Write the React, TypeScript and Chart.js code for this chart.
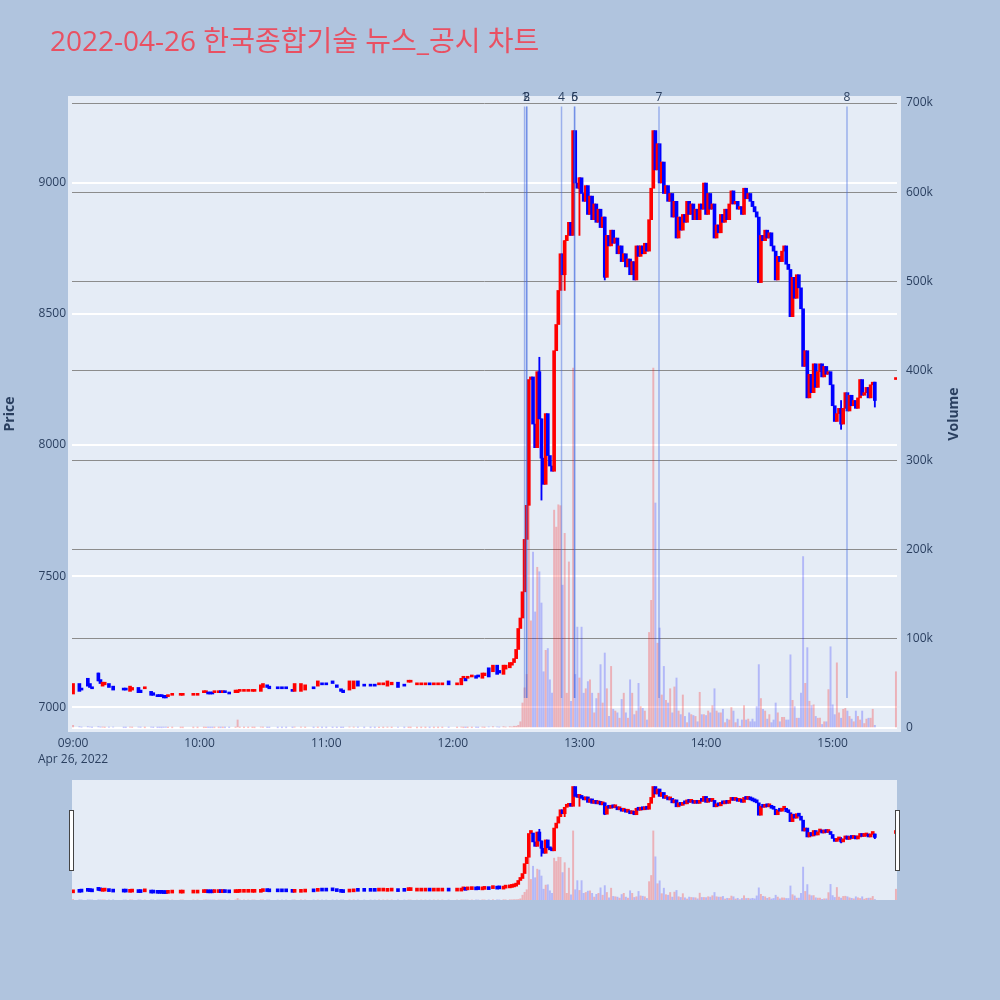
import React, { useEffect, useRef } from 'react';
import { Chart, registerables } from 'chart.js';

Chart.register(...registerables);

const titleText = '2022-04-26 한국종합기술 뉴스_공시 차트';
const dateLabel = 'Apr 26, 2022';

// ---- morning (sparse trades): minute since 09:00, open, close, volume ----
const amMinutes = [
  0, 3, 4, 7, 8, 9, 12, 13, 14, 15,
  17, 19, 24, 25, 27, 28, 31, 32, 34, 37,
  38, 40, 41, 42, 43, 44, 45, 47, 51, 52,
  57, 59, 62, 63, 64, 65, 66, 67, 69, 70,
  71, 72, 74, 77, 78, 79, 81, 83, 85, 86,
  89, 90, 92, 93, 97, 99, 101, 104, 105, 108,
  110, 114, 116, 118, 120, 123, 125, 127, 128, 131,
  133, 135, 138, 141, 143, 145, 147, 149, 151, 154,
  157, 159, 160, 163, 165, 167, 169, 171, 173, 175,
  178, 182, 184, 185, 186, 187, 189, 191, 192, 194,
  195, 197, 199, 201, 202, 204, 205, 207, 208, 209,
];
const amOpen = [
  7050, 7090, 7070, 7110, 7090, 7075, 7130, 7105, 7080, 7085,
  7090, 7080, 7070, 7070, 7060, 7065, 7075, 7065, 7070, 7060,
  7055, 7045, 7045, 7045, 7045, 7045, 7040, 7045, 7045, 7045,
  7045, 7045, 7055, 7055, 7055, 7055, 7055, 7055, 7055, 7060,
  7055, 7060, 7055, 7055, 7055, 7060, 7060, 7060, 7060, 7060,
  7060, 7075, 7085, 7080, 7075, 7075, 7075, 7065, 7060, 7060,
  7065, 7075, 7080, 7090, 7090, 7100, 7085, 7070, 7065, 7065,
  7070, 7100, 7085, 7085, 7085, 7085, 7085, 7080, 7085, 7095,
  7085, 7095, 7095, 7085, 7085, 7085, 7090, 7085, 7085, 7085,
  7100, 7085, 7085, 7110, 7110, 7110, 7115, 7120, 7120, 7110,
  7120, 7150, 7135, 7160, 7140, 7125, 7145, 7150, 7160, 7170,
];
const amClose = [
  7090, 7060, 7065, 7080, 7075, 7070, 7100, 7090, 7095, 7095,
  7075, 7065, 7065, 7065, 7080, 7075, 7055, 7055, 7075, 7045,
  7045, 7040, 7040, 7040, 7035, 7035, 7045, 7050, 7050, 7050,
  7050, 7050, 7060, 7060, 7050, 7050, 7050, 7060, 7060, 7055,
  7060, 7055, 7050, 7065, 7065, 7065, 7065, 7065, 7065, 7065,
  7085, 7090, 7075, 7070, 7070, 7070, 7070, 7060, 7090, 7090,
  7085, 7070, 7100, 7085, 7085, 7090, 7075, 7060, 7055, 7100,
  7100, 7080, 7080, 7080, 7080, 7090, 7090, 7100, 7095, 7075,
  7080, 7100, 7100, 7090, 7090, 7090, 7085, 7090, 7090, 7090,
  7085, 7090, 7110, 7115, 7100, 7115, 7120, 7110, 7115, 7130,
  7130, 7115, 7160, 7125, 7130, 7160, 7160, 7170, 7170, 7185,
];
const amVolume = [
  3000, 1500, 800, 1500, 1000, 500, 1500, 800, 800, 500,
  700, 900, 300, 300, 800, 500, 900, 600, 200, 700,
  400, 300, 300, 200, 500, 600, 300, 200, 200, 200,
  200, 200, 300, 300, 300, 200, 200, 200, 200, 200,
  200, 200, 300, 500, 9000, 500, 300, 300, 300, 200,
  800, 600, 400, 400, 200, 200, 200, 300, 800, 700,
  500, 300, 500, 200, 200, 300, 300, 400, 400, 900,
  700, 600, 200, 200, 200, 300, 300, 600, 400, 600,
  200, 300, 200, 200, 200, 200, 200, 200, 200, 300,
  500, 300, 800, 300, 400, 300, 300, 500, 300, 800,
  500, 1200, 1500, 1200, 800, 1500, 1000, 1500, 1200, 2000,
];

// ---- afternoon: one close per minute from 12:30 (minute 210) to 15:20 ----
const pmStartMinute = 210;
const pmClose = [
  7220, 7300, 7340, 7440, 7640, 7770, 8250, 8260, 8080, 7990,
  8280, 8100, 7950, 7850, 8120, 7960, 7920, 7900, 8360, 8460,
  8590, 8730, 8650, 8780, 8800, 8850, 8800, 9200, 9000, 8980,
  9020, 8960, 8930, 8990, 8880, 8950, 8860, 8920, 8850, 8900,
  8830, 8870, 8640, 8800, 8760, 8820, 8770, 8790, 8730, 8760,
  8700, 8730, 8680, 8710, 8650, 8700, 8630, 8760, 8720, 8760,
  8730, 8770, 8740, 8860, 8980, 9200, 9050, 9150, 9000, 9080,
  8960, 8990, 8930, 8960, 8870, 8930, 8790, 8870, 8820, 8880,
  8850, 8930, 8880, 8920, 8860, 8900, 8860, 8920, 8900, 9000,
  8880, 8960, 8900, 8920, 8790, 8840, 8810, 8880, 8850, 8900,
  8860, 8920, 8970, 8920, 8930, 8900, 8910, 8880, 8980, 8940,
  8960, 8930, 8910, 8890, 8870, 8620, 8800, 8780, 8820, 8790,
  8810, 8760, 8740, 8630, 8720, 8700, 8740, 8760, 8690, 8670,
  8490, 8640, 8560, 8650, 8600, 8520, 8300, 8360, 8180, 8270,
  8200, 8310, 8220, 8280, 8310, 8260, 8300, 8270, 8280, 8230,
  8150, 8090, 8120, 8140, 8080, 8140, 8200, 8130, 8190, 8150,
  8170, 8140, 8180, 8250, 8190, 8200, 8220, 8180, 8230, 8240,
  8170,
];
// volume in thousands of shares
const pmVolumeK = [
  2, 3, 7, 28, 45, 60, 295, 120, 197, 130,
  180, 175, 140, 63, 87, 89, 54, 39, 244, 225,
  250, 249, 160, 218, 39, 186, 30, 403, 60, 113,
  56, 113, 39, 44, 52, 54, 39, 17, 33, 39,
  71, 28, 84, 44, 13, 69, 21, 19, 17, 11,
  32, 39, 17, 11, 54, 39, 15, 19, 50, 24,
  22, 19, 9, 107, 143, 403, 252, 95, 112, 37,
  69, 31, 28, 44, 17, 46, 56, 19, 15, 37,
  13, 6, 17, 15, 14, 13, 7, 40, 15, 15,
  14, 19, 17, 25, 44, 19, 17, 17, 21, 6,
  10, 9, 23, 19, 6, 10, 2, 9, 25, 9,
  10, 7, 10, 7, 24, 71, 33, 21, 19, 10,
  15, 6, 9, 28, 17, 7, 12, 12, 9, 9,
  82, 31, 24, 11, 11, 39, 192, 50, 90, 30,
  25, 26, 13, 11, 11, 4, 7, 7, 43, 91,
  26, 15, 73, 17, 11, 21, 22, 19, 13, 10,
  7, 19, 13, 9, 19, 5, 10, 11, 11, 21,
  3,
];

// ---- notable wicks (minute, low, high) ----
const wickMinutes = [12, 221, 222, 233, 240, 252, 364, 380];
const wickLow = [7100, 8100, 7790, 8590, 8800, 8630, 8060, 8145];
const wickHigh = [7130, 8335, 8100, 8780, 9020, 8870, 8170, 8240];

// ---- closing auction 15:30 ----
const auctionMinute = 390;
const auctionPrice = 8250;
const auctionVolumeK = 63;

// ---- news / disclosure markers ----
const newsLabels = ['1', '2', '3', '4', '5', '6', '7', '8'];
const newsMinutes = [214, 215, 215, 231.5, 237.7, 237.7, 277.7, 366.8];

// ---- axes ----
const priceTicks = [7000, 7500, 8000, 8500, 9000];
const volumeTicks = [0, 100000, 200000, 300000, 400000, 500000, 600000, 700000];
const timeTicks = [0, 60, 120, 180, 240, 300, 360];
const timeTickLabels = ['09:00', '10:00', '11:00', '12:00', '13:00', '14:00', '15:00'];

const UP = '#ff0000';
const DOWN = '#0000ff';
const UP_VOL = 'rgba(255,0,0,0.25)';
const DOWN_VOL = 'rgba(0,0,255,0.22)';
const TEXT = '#2a3f5f';
const FONT = '"Open Sans", "Noto Sans CJK KR", sans-serif';

type Candle = { m: number; o: number; c: number; v: number };

function buildCandles(): Candle[] {
  const out: Candle[] = [];
  amMinutes.forEach((m, i) => out.push({ m, o: amOpen[i], c: amClose[i], v: amVolume[i] }));
  let prev = amClose[amClose.length - 1];
  pmClose.forEach((c, i) => {
    out.push({ m: pmStartMinute + i, o: prev, c, v: pmVolumeK[i] * 1000 });
    prev = c;
  });
  out.push({ m: auctionMinute, o: auctionPrice, c: auctionPrice, v: auctionVolumeK * 1000 });
  return out;
}

export default function App() {
  const mainRef = useRef<HTMLCanvasElement>(null);
  const sliderRef = useRef<HTMLCanvasElement>(null);

  useEffect(() => {
    const candles = buildCandles();
    const up = candles.map((k) => k.c >= k.o);
    const bodyData = candles.map((k) => ({ x: k.m, y: [k.o, k.c] }));
    const volData = candles.map((k) => ({ x: k.m, y: k.v }));
    const bodyColors = up.map((u) => (u ? UP : DOWN));
    const volColors = up.map((u) => (u ? UP_VOL : DOWN_VOL));
    const wickData = wickMinutes.map((m, i) => ({ x: m, y: [wickLow[i], wickHigh[i]] }));
    const wickColors = wickMinutes.map((m) => {
      const k = candles.find((c) => c.m === m);
      return k && k.c >= k.o ? UP : DOWN;
    });
    let maxP = -Infinity;
    let minP = Infinity;
    candles.forEach((k) => {
      maxP = Math.max(maxP, k.o, k.c);
      minP = Math.min(minP, k.o, k.c);
    });
    const newsTop = maxP * 1.01;
    const newsBottom = minP;

    const mainDecor = {
      id: 'mainDecor',
      beforeDraw(chart: any) {
        const { ctx, chartArea } = chart;
        ctx.save();
        ctx.fillStyle = '#e5ecf6';
        ctx.fillRect(chartArea.left - 4, chartArea.top, chartArea.right - chartArea.left + 8, chartArea.bottom - chartArea.top);
        ctx.restore();
      },
      afterDatasetsDraw(chart: any) {
        const { ctx, scales } = chart;
        const xs = scales.x;
        const ys = scales.y;
        const top = ys.getPixelForValue(newsTop);
        const bottom = ys.getPixelForValue(newsBottom);
        ctx.save();
        ctx.strokeStyle = 'rgba(65,105,225,0.45)';
        ctx.lineWidth = 1.5;
        ctx.fillStyle = TEXT;
        ctx.font = `12px ${FONT}`;
        ctx.textAlign = 'center';
        ctx.textBaseline = 'alphabetic';
        newsMinutes.forEach((m, i) => {
          const px = xs.getPixelForValue(m);
          ctx.beginPath();
          ctx.moveTo(px, top);
          ctx.lineTo(px, bottom);
          ctx.stroke();
          ctx.fillText(newsLabels[i], px, top - 5);
        });
        ctx.restore();
      },
      afterDraw(chart: any) {
        const { ctx, chartArea } = chart;
        ctx.save();
        ctx.fillStyle = 'rgb(233,80,98)';
        ctx.font = `28px ${FONT}`;
        ctx.textAlign = 'left';
        ctx.textBaseline = 'alphabetic';
        ctx.fillText(titleText, 50, 51);
        const midY = (chartArea.top + chartArea.bottom) / 2;
        ctx.fillStyle = TEXT;
        ctx.font = `bold 14px ${FONT}`;
        ctx.textAlign = 'center';
        ctx.textBaseline = 'middle';
        ctx.translate(10, midY);
        ctx.rotate(-Math.PI / 2);
        ctx.fillText('Price', 0, 0);
        ctx.restore();
        ctx.save();
        ctx.fillStyle = TEXT;
        ctx.font = `bold 14px ${FONT}`;
        ctx.textAlign = 'center';
        ctx.textBaseline = 'middle';
        ctx.translate(954, midY);
        ctx.rotate(-Math.PI / 2);
        ctx.fillText('Volume', 0, 0);
        ctx.restore();
      },
    };

    const tickFont = { family: FONT, size: 12 };

    const candleSets = (thick: number, minLen: number) => [
      {
        data: wickData as any,
        backgroundColor: wickColors,
        barThickness: 1.2,
        grouped: false,
        yAxisID: 'y',
        order: 1,
        borderWidth: 0,
      } as any,
      {
        data: bodyData as any,
        backgroundColor: bodyColors,
        barThickness: thick,
        minBarLength: minLen,
        grouped: false,
        yAxisID: 'y',
        order: 0,
        borderWidth: 0,
      } as any,
      {
        data: volData as any,
        backgroundColor: volColors,
        barThickness: 1.3,
        grouped: false,
        yAxisID: 'y1',
        order: 2,
        borderWidth: 0,
      } as any,
    ];

    const main = new Chart(mainRef.current as HTMLCanvasElement, {
      type: 'bar',
      data: { datasets: candleSets(3, 2) },
      options: {
        responsive: false,
        animation: false,
        events: [],
        layout: { padding: { top: 96, left: 0, right: 0, bottom: 0 } },
        plugins: { legend: { display: false }, tooltip: { enabled: false } },
        scales: {
          x: {
            type: 'linear',
            min: -0.5,
            max: 390.5,
            offset: false,
            grid: { display: false },
            border: { display: false },
            afterBuildTicks: (s: any) => {
              s.ticks = timeTicks.map((v) => ({ value: v }));
            },
            afterFit: (s: any) => {
              s.height = 38;
            },
            ticks: {
              autoSkip: false,
              maxRotation: 0,
              padding: -5,
              color: TEXT,
              font: { ...tickFont, lineHeight: 1.35 },
              callback: (v: any) => {
                const i = timeTicks.indexOf(Number(v));
                const lbl = i >= 0 ? timeTickLabels[i] : '';
                return i === 0 ? [lbl, dateLabel] : lbl;
              },
            },
          },
          y: {
            type: 'linear',
            position: 'left',
            min: 6905,
            max: 9332,
            grid: { color: '#ffffff', lineWidth: 2, drawTicks: false },
            border: { display: false },
            afterBuildTicks: (s: any) => {
              s.ticks = priceTicks.map((v) => ({ value: v }));
            },
            afterFit: (s: any) => {
              s.width = 72;
            },
            ticks: { padding: 6, color: TEXT, font: tickFont, callback: (v: any) => String(v) },
          },
          y1: {
            type: 'linear',
            position: 'right',
            min: -4480,
            max: 707840,
            grid: {
              drawTicks: false,
              color: (c: any) => (c.tick && c.tick.value === 0 ? '#ffffff' : '#8c8c8c'),
              lineWidth: (c: any) => (c.tick && c.tick.value === 0 ? 2 : 1),
            },
            border: { display: false },
            afterBuildTicks: (s: any) => {
              s.ticks = volumeTicks.map((v) => ({ value: v }));
            },
            afterFit: (s: any) => {
              s.width = 103;
            },
            ticks: {
              padding: 9,
              color: TEXT,
              font: tickFont,
              callback: (v: any) => (Number(v) === 0 ? '0' : `${Number(v) / 1000}k`),
            },
          },
        },
      } as any,
      plugins: [mainDecor],
    });

    const sliderDecor = {
      id: 'sliderDecor',
      beforeDraw(chart: any) {
        const { ctx, chartArea } = chart;
        ctx.save();
        ctx.fillStyle = '#e5ecf6';
        ctx.fillRect(chartArea.left, chartArea.top, chartArea.right - chartArea.left, chartArea.bottom - chartArea.top);
        ctx.restore();
      },
      afterDraw(chart: any) {
        const { ctx, chartArea } = chart;
        ctx.save();
        ctx.fillStyle = '#ffffff';
        ctx.strokeStyle = '#444444';
        ctx.lineWidth = 1;
        const hTop = chartArea.top + 30.5;
        const hH = 60;
        ctx.fillRect(chartArea.left - 2.5, hTop, 4, hH);
        ctx.strokeRect(chartArea.left - 2.5, hTop, 4, hH);
        ctx.fillRect(chartArea.right - 1.5, hTop, 4, hH);
        ctx.strokeRect(chartArea.right - 1.5, hTop, 4, hH);
        ctx.restore();
      },
    };

    const slider = new Chart(sliderRef.current as HTMLCanvasElement, {
      type: 'bar',
      data: { datasets: candleSets(3, 3) },
      options: {
        responsive: false,
        animation: false,
        events: [],
        layout: { padding: { top: 10, left: 72, right: 103, bottom: 10 } },
        plugins: { legend: { display: false }, tooltip: { enabled: false } },
        scales: {
          x: { type: 'linear', min: -0.5, max: 390.5, offset: false, display: false },
          y: { type: 'linear', min: 6905, max: 9332, display: false },
          y1: { type: 'linear', min: 0, max: 700000, display: false, position: 'right' },
        },
      } as any,
      plugins: [sliderDecor],
    });

    return () => {
      main.destroy();
      slider.destroy();
    };
  }, []);

  return (
    <div
      style={{
        position: 'absolute',
        left: 0,
        top: 0,
        width: 1000,
        height: 1000,
        background: '#b0c4de',
        overflow: 'hidden',
      }}
    >
      <canvas
        ref={mainRef}
        width={1000}
        height={770}
        style={{ position: 'absolute', left: 0, top: 0, width: 1000, height: 770 }}
      />
      <canvas
        ref={sliderRef}
        width={1000}
        height={140}
        style={{ position: 'absolute', left: 0, top: 770, width: 1000, height: 140 }}
      />
    </div>
  );
}
